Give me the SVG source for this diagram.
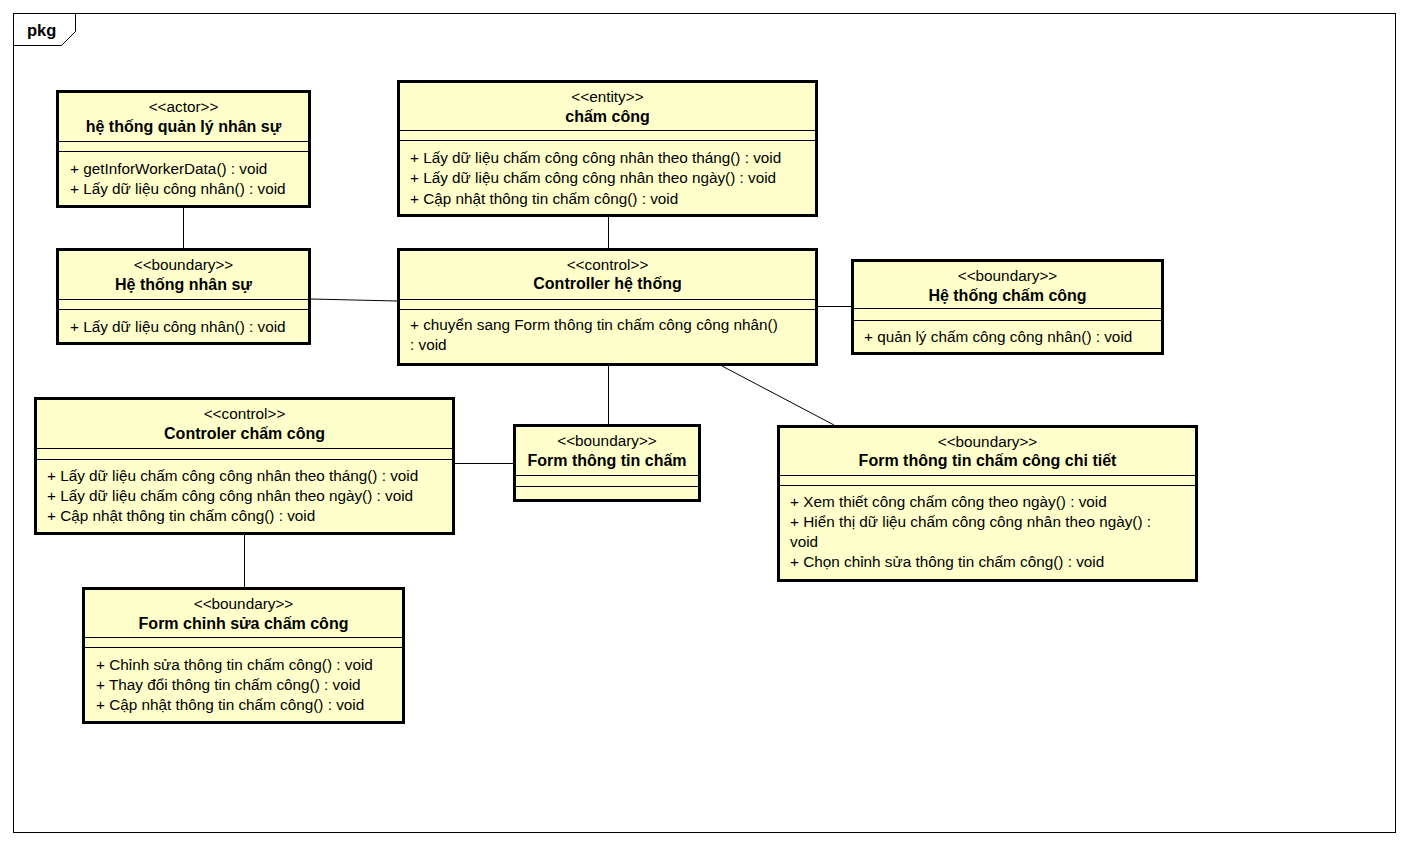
<svg xmlns="http://www.w3.org/2000/svg" width="1409" height="846" viewBox="0 0 1409 846">
<style>
.box{fill:#FFFFCC;stroke:#000;stroke-width:3}
.sep{stroke:#000;stroke-width:1}
.t{font-family:"Liberation Sans",Arial,sans-serif;font-size:15.3px;fill:#000}
.c{text-anchor:middle}
.b{font-weight:bold;font-size:16px}
.con line{stroke:#000;stroke-width:1}
</style>
<rect x="0" y="0" width="1409" height="846" fill="#fff"/>
<g id="frame">
<rect x="13.5" y="13.5" width="1382" height="819" fill="none" stroke="#000" stroke-width="1"/>
<polyline points="13.5,45.5 61.5,45.5 75.5,31.5 75.5,13.5" fill="none" stroke="#000" stroke-width="1"/>
<text class="t b" x="27" y="36" style="font-size:16.5px">pkg</text>
</g>
<g class="con" id="connectors">
<line x1="183.5" y1="208" x2="183.5" y2="248"/>
<line x1="608.5" y1="217" x2="608.5" y2="248"/>
<line x1="311" y1="299" x2="397" y2="301"/>
<line x1="818" y1="306.5" x2="851" y2="306.5"/>
<line x1="608.5" y1="366" x2="608.5" y2="424"/>
<line x1="722" y1="366" x2="834" y2="425"/>
<line x1="455" y1="463.5" x2="513" y2="463.5"/>
<line x1="244.5" y1="535" x2="244.5" y2="587"/>
</g>
<g id="actor">
<rect class="box" x="57.5" y="91.5" width="252" height="115"/>
<line class="sep" x1="57" y1="141.5" x2="310" y2="141.5"/>
<line class="sep" x1="57" y1="151.5" x2="310" y2="151.5"/>
<text class="t c" x="183.5" y="112">&lt;&lt;actor&gt;&gt;</text>
<text class="t c b" x="183.5" y="132">hệ thống quản lý nhân sự</text>
<text class="t" x="70" y="174">+ getInforWorkerData() : void</text>
<text class="t" x="70" y="194">+ Lấy dữ liệu công nhân() : void</text>
</g>
<g id="entity">
<rect class="box" x="398.5" y="81.5" width="418" height="134"/>
<line class="sep" x1="398" y1="130.5" x2="817" y2="130.5"/>
<line class="sep" x1="398" y1="140.5" x2="817" y2="140.5"/>
<text class="t c" x="607.5" y="102">&lt;&lt;entity&gt;&gt;</text>
<text class="t c b" x="607.5" y="122">chấm công</text>
<text class="t" x="410" y="163">+ Lấy dữ liệu chấm công công nhân theo tháng() : void</text>
<text class="t" x="410" y="183">+ Lấy dữ liệu chấm công công nhân theo ngày() : void</text>
<text class="t" x="410" y="204">+ Cập nhật thông tin chấm công() : void</text>
</g>
<g id="hethongnhansu">
<rect class="box" x="57.5" y="249.5" width="252" height="94"/>
<line class="sep" x1="57" y1="299.5" x2="310" y2="299.5"/>
<line class="sep" x1="57" y1="309.5" x2="310" y2="309.5"/>
<text class="t c" x="183.5" y="270">&lt;&lt;boundary&gt;&gt;</text>
<text class="t c b" x="183.5" y="290">Hệ thống nhân sự</text>
<text class="t" x="70" y="332">+ Lấy dữ liệu công nhân() : void</text>
</g>
<g id="controller">
<rect class="box" x="398.5" y="249.5" width="418" height="115"/>
<line class="sep" x1="398" y1="299.5" x2="817" y2="299.5"/>
<line class="sep" x1="398" y1="309.5" x2="817" y2="309.5"/>
<text class="t c" x="607.5" y="270">&lt;&lt;control&gt;&gt;</text>
<text class="t c b" x="607.5" y="289">Controller hệ thống</text>
<text class="t" x="410" y="330">+ chuyển sang Form thông tin chấm công công nhân()</text>
<text class="t" x="410" y="350">: void</text>
</g>
<g id="hethongchamcong">
<rect class="box" x="852.5" y="260.5" width="310" height="93"/>
<line class="sep" x1="852" y1="308.5" x2="1163" y2="308.5"/>
<line class="sep" x1="852" y1="320.5" x2="1163" y2="320.5"/>
<text class="t c" x="1007.5" y="281">&lt;&lt;boundary&gt;&gt;</text>
<text class="t c b" x="1007.5" y="301">Hệ thống chấm công</text>
<text class="t" x="864" y="342">+ quản lý chấm công công nhân() : void</text>
</g>
<g id="controlerchamcong">
<rect class="box" x="35.5" y="398.5" width="418" height="135"/>
<line class="sep" x1="35" y1="448.5" x2="454" y2="448.5"/>
<line class="sep" x1="35" y1="459.5" x2="454" y2="459.5"/>
<text class="t c" x="244.5" y="419">&lt;&lt;control&gt;&gt;</text>
<text class="t c b" x="244.5" y="439">Controler chấm công</text>
<text class="t" x="47" y="481">+ Lấy dữ liệu chấm công công nhân theo tháng() : void</text>
<text class="t" x="47" y="501">+ Lấy dữ liệu chấm công công nhân theo ngày() : void</text>
<text class="t" x="47" y="521">+ Cập nhật thông tin chấm công() : void</text>
</g>
<g id="formthongtincham">
<rect class="box" x="514.5" y="425.5" width="185" height="75"/>
<line class="sep" x1="514" y1="475.5" x2="700" y2="475.5"/>
<line class="sep" x1="514" y1="486.5" x2="700" y2="486.5"/>
<text class="t c" x="607" y="446">&lt;&lt;boundary&gt;&gt;</text>
<text class="t c b" x="607" y="466">Form thông tin chấm</text>
</g>
<g id="formchitiet">
<rect class="box" x="778.5" y="426.5" width="418" height="154"/>
<line class="sep" x1="778" y1="475.5" x2="1197" y2="475.5"/>
<line class="sep" x1="778" y1="485.5" x2="1197" y2="485.5"/>
<text class="t c" x="987.5" y="447">&lt;&lt;boundary&gt;&gt;</text>
<text class="t c b" x="987.5" y="466">Form thông tin chấm công chi tiết</text>
<text class="t" x="790" y="507">+ Xem thiết công chấm công theo ngày() : void</text>
<text class="t" x="790" y="527">+ Hiển thị dữ liệu chấm công công nhân theo ngày() :</text>
<text class="t" x="790" y="547">void</text>
<text class="t" x="790" y="567">+ Chọn chỉnh sửa thông tin chấm công() : void</text>
</g>
<g id="formchinhsua">
<rect class="box" x="83.5" y="588.5" width="320" height="134"/>
<line class="sep" x1="83" y1="637.5" x2="404" y2="637.5"/>
<line class="sep" x1="83" y1="647.5" x2="404" y2="647.5"/>
<text class="t c" x="243.5" y="609">&lt;&lt;boundary&gt;&gt;</text>
<text class="t c b" x="243.5" y="629">Form chỉnh sửa chấm công</text>
<text class="t" x="96" y="670">+ Chỉnh sửa thông tin chấm công() : void</text>
<text class="t" x="96" y="690">+ Thay đổi thông tin chấm công() : void</text>
<text class="t" x="96" y="710">+ Cập nhật thông tin chấm công() : void</text>
</g>
</svg>
